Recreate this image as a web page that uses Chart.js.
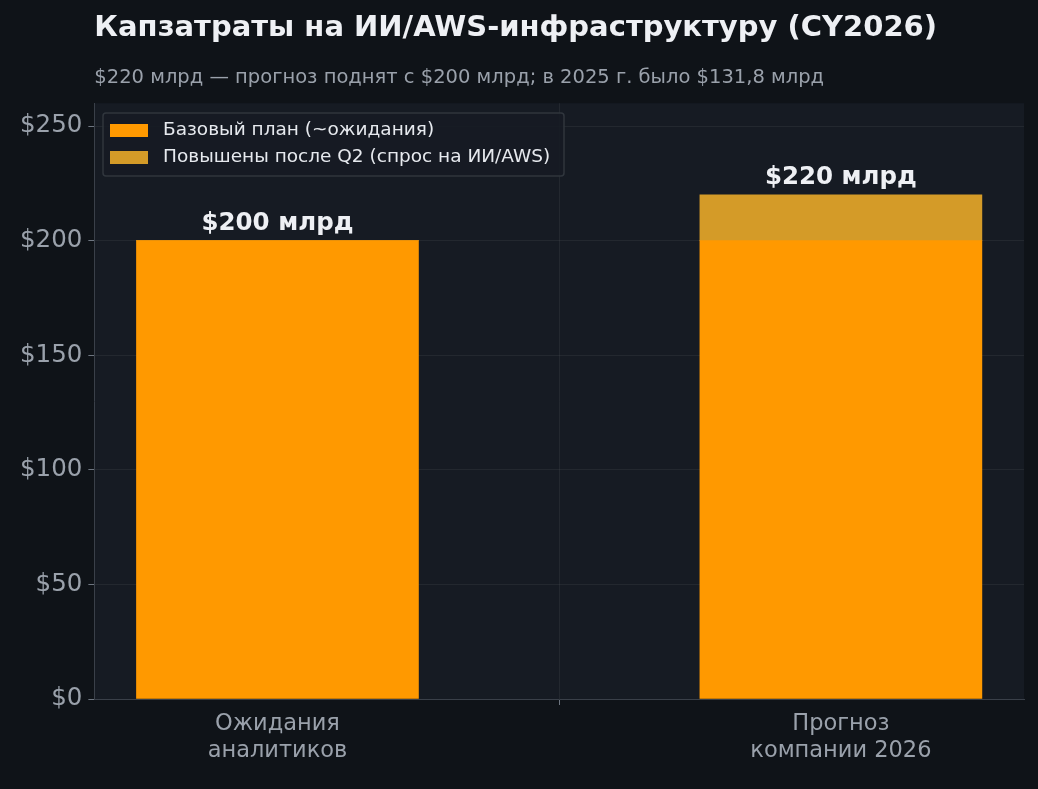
<!DOCTYPE html>
<html>
<head>
<meta charset="utf-8">
<script src="https://cdn.jsdelivr.net/npm/chart.js@4"></script>
<style>
  html, body { margin: 0; padding: 0; background: #0f1318; }
  #wrap { width: 1038px; height: 789px; }
</style>
</head>
<body>
<div id="wrap"><canvas id="capexChart"></canvas></div>
<script>
const categories = [['Ожидания', 'аналитиков'], ['Прогноз', 'компании 2026']];
const baseValues = [200, 200];
const raisedValues = [0, 20];
const totalLabels = ['$200 млрд', '$220 млрд'];
const seriesNames = ['Базовый план (~ожидания)', 'Повышены после Q2 (спрос на ИИ/AWS)'];
const seriesColors = ['#ff9900', '#d49b28'];
const yTicks = [0, 50, 100, 150, 200, 250];

const font = "'DejaVu Sans', sans-serif";

// plot background, bar totals, legend inside plot
const decor = {
    id: 'decor',
    beforeDraw(chart) {
        const { ctx, chartArea: a } = chart;
        ctx.save();
        ctx.fillStyle = '#161b23';
        ctx.fillRect(a.left, a.top, a.right - a.left, a.bottom - a.top);
        ctx.restore();
    },
    afterDatasetsDraw(chart) {
        const { ctx, scales } = chart;
        ctx.save();
        ctx.font = 'bold 24.5px ' + font;
        ctx.fillStyle = '#eef0f4';
        ctx.textAlign = 'center';
        ctx.textBaseline = 'bottom';
        totalLabels.forEach((t, i) => {
            const x = scales.x.getPixelForValue(i);
            const y = scales.y.getPixelForValue(baseValues[i] + raisedValues[i]);
            ctx.fillText(t, x, y - 5);
        });
        // legend
        const lx = 103, ly = 113;
        ctx.fillStyle = 'rgba(22,27,35,0.9)';
        ctx.strokeStyle = '#30363d';
        ctx.lineWidth = 1.5;
        ctx.beginPath();
        ctx.roundRect(lx, ly, 461, 63, 3);
        ctx.fill();
        ctx.stroke();
        ctx.font = '18.5px ' + font;
        ctx.textAlign = 'left';
        ctx.textBaseline = 'middle';
        seriesNames.forEach((n, i) => {
            const yy = ly + 17 + i * 27;
            ctx.fillStyle = seriesColors[i];
            ctx.fillRect(lx + 7, yy - 6, 38, 13);
            ctx.fillStyle = '#e6e9ee';
            ctx.fillText(n, lx + 60, yy);
        });
        ctx.restore();
    }
};

new Chart(document.getElementById('capexChart'), {
    type: 'bar',
    data: {
        datasets: seriesNames.map((name, i) => ({
            label: name,
            data: (i === 0 ? baseValues : raisedValues).map((v, k) => ({ x: k, y: v })),
            backgroundColor: seriesColors[i],
            barThickness: 282
        }))
    },
    options: {
        responsive: true,
        maintainAspectRatio: false,
        animation: false,
        layout: { padding: { left: 14, right: 14, bottom: 18 } },
        plugins: {
            legend: { display: false },
            tooltip: { enabled: false },
            title: {
                display: true, text: 'Капзатраты на ИИ/AWS-инфраструктуру (CY2026)',
                align: 'start', fullSize: false, color: '#eef0f4',
                font: { family: font, size: 29, weight: 'bold' },
                padding: { top: 11, bottom: 20 }
            },
            subtitle: {
                display: true, text: '$220 млрд — прогноз поднят с $200 млрд; в 2025 г. было $131,8 млрд',
                align: 'start', fullSize: false, color: '#9aa1ab',
                font: { family: font, size: 19.5 },
                padding: { bottom: 14 }
            }
        },
        scales: {
            x: {
                type: 'linear', stacked: true, min: -0.325, max: 1.325, offset: false,
                afterBuildTicks(s) { s.ticks = [{ value: 0 }, { value: 1 }]; },
                grid: { color: 'rgba(255,255,255,0.06)', tickColor: '#6e7681', tickLength: 6 },
                border: { color: '#3a4049' },
                ticks: { color: '#9aa1ab', font: { family: font, size: 22.5 }, padding: 6,
                         callback: v => categories[v] }
            },
            y: {
                stacked: true, min: 0, max: 260,
                afterBuildTicks(s) { s.ticks = yTicks.map(v => ({ value: v })); },
                grid: { color: 'rgba(255,255,255,0.06)', tickColor: '#6e7681', tickLength: 6 },
                border: { color: '#3a4049' },
                ticks: { color: '#9aa1ab', font: { family: font, size: 24.5 }, padding: 6, callback: v => '$' + v }
            }
        }
    },
    plugins: [decor]
});
</script>
</body>
</html>
